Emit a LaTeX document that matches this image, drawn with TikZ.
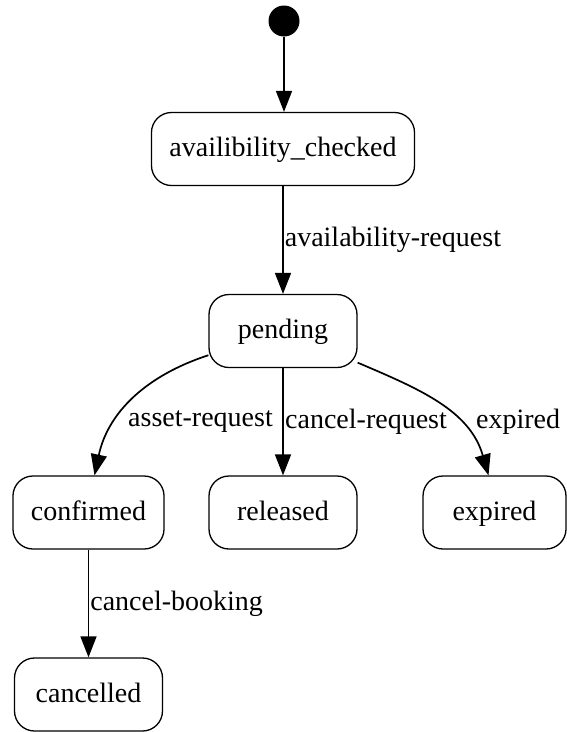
\documentclass[tikz,border=0pt]{standalone}
\usepackage{fontspec}
\setmainfont{Liberation Serif}
\usetikzlibrary{arrows.meta}

\tikzset{
  state/.style={draw, line width=1.3pt, rounded corners=20pt, minimum width=148pt,
    minimum height=73pt, inner sep=18pt, text height=21pt, text depth=6pt},
  edge/.style={line width=1.7pt, -{Triangle[length=21pt,width=16pt]}},
  lbl/.style={inner sep=1pt}
}

\begin{document}
\begin{tikzpicture}[x=1pt, y=-1pt, font=\fontsize{28}{34}\selectfont]
\useasboundingbox (0,0) rectangle (567,732);
\def\x{283}
\def\y{512.5}
% states
\node[circle, fill=black, minimum size=31pt, inner sep=0pt] (init) at (284,21) {};
\node[state] (checked) at (\x,149) {availibility\_checked};
\node[state] (pending) at (\x,331) {pending};
\node[state] (confirmed) at (88.5,\y) {confirmed};
\node[state] (released) at (283,\y) {released};
\node[state, minimum width=143pt] (expired) at (494.5,\y) {expired};
\node[state] (cancelled) at (88.5,694.5) {cancelled};
% transitions
\draw[edge] (init) -- (init |- checked.north);
\draw[edge] (checked) -- node[lbl, anchor=west] {availability-request} (pending);
\draw[edge] (pending) to[out=198, in=78] ([xshift=6pt]confirmed.north);
\draw[edge] (pending) -- (released);
\draw[edge] (pending) to[out=-23, in=106] ([xshift=-6pt]expired.north);
\draw[edge] (confirmed) -- node[lbl, anchor=west] {cancel-booking} (cancelled);
% labels of the branches
\node[lbl, anchor=east] (assetlbl) at (274,422) {asset-request};
\node[lbl, anchor=west] (cancellbl) at (284,422) {cancel-request};
\node[lbl, anchor=west] (expiredlbl) at (475,422) {expired};
\end{tikzpicture}
\end{document}
